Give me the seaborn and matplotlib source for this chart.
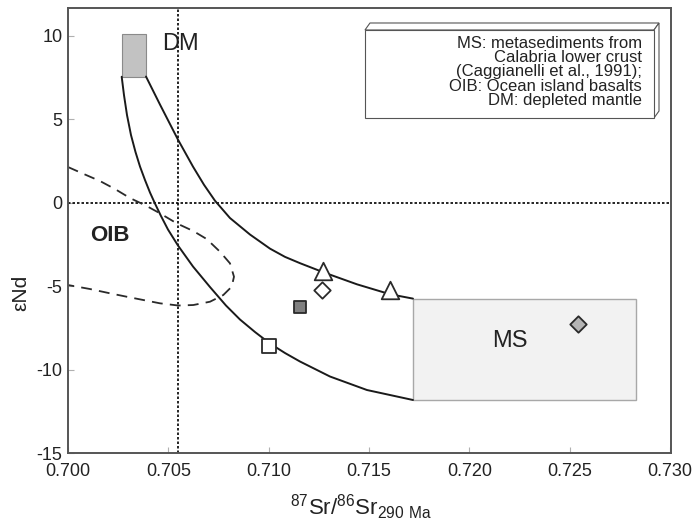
import numpy as np
import pandas as pd
import matplotlib
matplotlib.use("Agg")
import matplotlib.pyplot as plt
from matplotlib.patches import Rectangle, Polygon
import seaborn as sns

# ---------------- data ----------------
upper_x = [0.703887, 0.704584, 0.705481, 0.706229, 0.706777, 0.707325, 0.708072,
           0.709069, 0.710065, 0.710813, 0.711561, 0.712707, 0.714401, 0.716045,
           0.717191]
upper_y = [7.545, 5.868, 3.766, 2.150, 1.063, 0.108, -0.928,
           -1.916, -2.760, -3.254, -3.632, -4.168, -4.898, -5.491,
           -5.754]

lower_x = [0.702676, 0.702790, 0.702940, 0.703139, 0.703364, 0.703588, 0.703837,
           0.704086, 0.704335, 0.704634, 0.704983, 0.705481, 0.706229, 0.707076,
           0.707873, 0.708571, 0.709318, 0.710065, 0.710813, 0.711561, 0.713055,
           0.714899, 0.717191]
lower_y = [7.533, 6.437, 5.240, 4.042, 3.024, 2.156, 1.347,
           0.599, -0.060, -0.808, -1.617, -2.575, -3.832, -5.060,
           -6.168, -7.006, -7.754, -8.443, -9.012, -9.521, -10.419,
           -11.228, -11.826]

oib_x = [0.700000, 0.700847, 0.701595, 0.702342, 0.703089, 0.703922, 0.704584,
         0.705417, 0.706244, 0.706911, 0.707574, 0.708072, 0.708272, 0.708157,
         0.707739, 0.707076, 0.706244, 0.705496, 0.704584, 0.703752, 0.702925,
         0.702093, 0.701096, 0.700000]
oib_y = [2.126, 1.677, 1.287, 0.808, 0.269, -0.210, -0.647,
         -1.246, -1.707, -2.186, -2.946, -3.641, -4.443, -5.042,
         -5.539, -5.940, -6.138, -6.168, -6.036, -5.838, -5.641,
         -5.437, -5.180, -4.940]

sample_x = [0.712722, 0.716045, 0.712672, 0.711561, 0.710031, 0.725413]
sample_y = [-4.13, -5.21, -5.24, -6.28, -8.62, -7.28]
sample_kind = ["open triangle", "open triangle", "open diamond", "grey square",
               "open square", "grey diamond"]

dm_box_x = [0.702676, 0.703887]
dm_box_y = [7.54, 10.09]
ms_box_x = [0.717191, 0.728300]
ms_box_y = [-11.826, -5.754]

ref_sr = 0.7055
ref_end = 0.0

xticks = [0.700, 0.705, 0.710, 0.715, 0.720, 0.725, 0.730]
xtick_labels = ["0.700", "0.705", "0.710", "0.715", "0.720", "0.725", "0.730"]
yticks = [-15, -10, -5, 0, 5, 10]
ytick_labels = ["-15", "-10", "-5", "0", "5", "10"]

legend_lines = ["MS: metasediments from", "Calabria lower crust",
                "(Caggianelli et al., 1991);", "OIB: Ocean island basalts",
                "DM: depleted mantle"]

# ---------------- style ----------------
sns.set_style("ticks")
plt.rcParams["font.family"] = ["Liberation Sans", "DejaVu Sans"]
plt.rcParams["mathtext.fontset"] = "custom"
plt.rcParams["mathtext.rm"] = "Liberation Sans"

fig = plt.figure(figsize=(6.97, 5.23), dpi=100)
ax = fig.add_axes([68 / 697, 70 / 523, 603 / 697, 445 / 523])

# boxes
ax.add_patch(Rectangle((dm_box_x[0], dm_box_y[0]), dm_box_x[1] - dm_box_x[0],
                       dm_box_y[1] - dm_box_y[0], facecolor="#c2c2c2",
                       edgecolor="#8a8a8a", lw=0.8, zorder=1))
ax.add_patch(Rectangle((ms_box_x[0], ms_box_y[0]), ms_box_x[1] - ms_box_x[0],
                       ms_box_y[1] - ms_box_y[0], facecolor="#f2f2f2",
                       edgecolor="#a8a8a8", lw=1.0, zorder=1))

# reference lines
ax.axvline(ref_sr, color="black", lw=1.2, ls=(0, (1.5, 1.2)), zorder=1.5)
ax.axhline(ref_end, color="black", lw=1.2, ls=(0, (1.5, 1.2)), zorder=1.5)

# curves
df_up = pd.DataFrame({"x": upper_x, "y": upper_y})
df_lo = pd.DataFrame({"x": lower_x, "y": lower_y})
df_oib = pd.DataFrame({"x": oib_x, "y": oib_y})
sns.lineplot(data=df_up, x="x", y="y", sort=False, estimator=None, color="#1a1a1a",
             lw=1.4, ax=ax, zorder=2)
sns.lineplot(data=df_lo, x="x", y="y", sort=False, estimator=None, color="#1a1a1a",
             lw=1.4, ax=ax, zorder=2)
sns.lineplot(data=df_oib, x="x", y="y", sort=False, estimator=None, color="#2a2a2a",
             lw=1.3, ax=ax, zorder=2)
ax.lines[-1].set_dashes((6, 4))
for ln in ax.lines[-3:]:
    ln.set_solid_joinstyle("round")

# samples
df_s = pd.DataFrame({"x": sample_x, "y": sample_y, "kind": sample_kind})
styles = {
    "open triangle": dict(marker="^", s=160, fc="white"),
    "open diamond": dict(marker="D", s=70, fc="white"),
    "grey square": dict(marker="s", s=85, fc="#808080"),
    "open square": dict(marker="s", s=100, fc="white"),
    "grey diamond": dict(marker="D", s=70, fc="#b5b5b5"),
}
for kind, st in styles.items():
    sub = df_s[df_s["kind"] == kind]
    sns.scatterplot(data=sub, x="x", y="y", marker=st["marker"], s=st["s"],
                    color=st["fc"], edgecolor="#2a2a2a", linewidth=1.3, ax=ax,
                    zorder=4, legend=False)

# labels in plot
ax.text(0.70468, 9.52, "DM", fontsize=17, ha="left", va="center", color="#222222")
ax.text(0.72202, -8.29, "MS", fontsize=17, ha="center", va="center", color="#222222")
ax.text(0.70209, -1.95, "OIB", fontsize=16, fontweight="bold", ha="center",
        va="center", color="#222222")

# 3D-ish legend box (axes coords)
x0, x1, yt, yb = 0.4925, 0.9718, 0.9506, 0.7528
dx, dy = 0.0083, 0.0157
box_kw = dict(transform=ax.transAxes, facecolor="white", edgecolor="#555555",
              lw=0.8, zorder=5)
ax.add_patch(Polygon([(x0, yt), (x0 + dx, yt + dy), (x1 + dx, yt + dy), (x1, yt)],
                     closed=True, **box_kw))
ax.add_patch(Polygon([(x1, yt), (x1 + dx, yt + dy), (x1 + dx, yb + dy), (x1, yb)],
                     closed=True, **box_kw))
ax.add_patch(Polygon([(x0, yb), (x0, yt), (x1, yt), (x1, yb)], closed=True, **box_kw))
ax.text(0.952, 0.937, "\n".join(legend_lines), transform=ax.transAxes, ha="right",
        va="top", fontsize=12, linespacing=0.93, color="#222222", zorder=6)

# axes
ax.set_xlim(0.700, 0.73005)
ax.set_ylim(-15, 11.65)
ax.set_xticks(xticks)
ax.set_xticklabels(xtick_labels)
ax.set_yticks(yticks)
ax.set_yticklabels(ytick_labels)
ax.tick_params(direction="in", length=4, width=0.8, color="#b0b0b0",
               labelsize=13, labelcolor="#222222")
ax.tick_params(axis="x", pad=7)
ax.tick_params(axis="y", pad=4)
for sp in ax.spines.values():
    sp.set_visible(True)
    sp.set_color("#555555")
    sp.set_linewidth(1.4)

ax.set_xlabel(r"$\mathregular{^{87}Sr/^{86}Sr_{290\ Ma}}$", fontsize=16, color="#222222")
ax.xaxis.set_label_coords(0.485, -0.088)
ax.set_ylabel("εNd", fontsize=15, color="#222222")
ax.yaxis.set_label_coords(-0.062, 0.36)

fig.savefig("out.png", dpi=100)
